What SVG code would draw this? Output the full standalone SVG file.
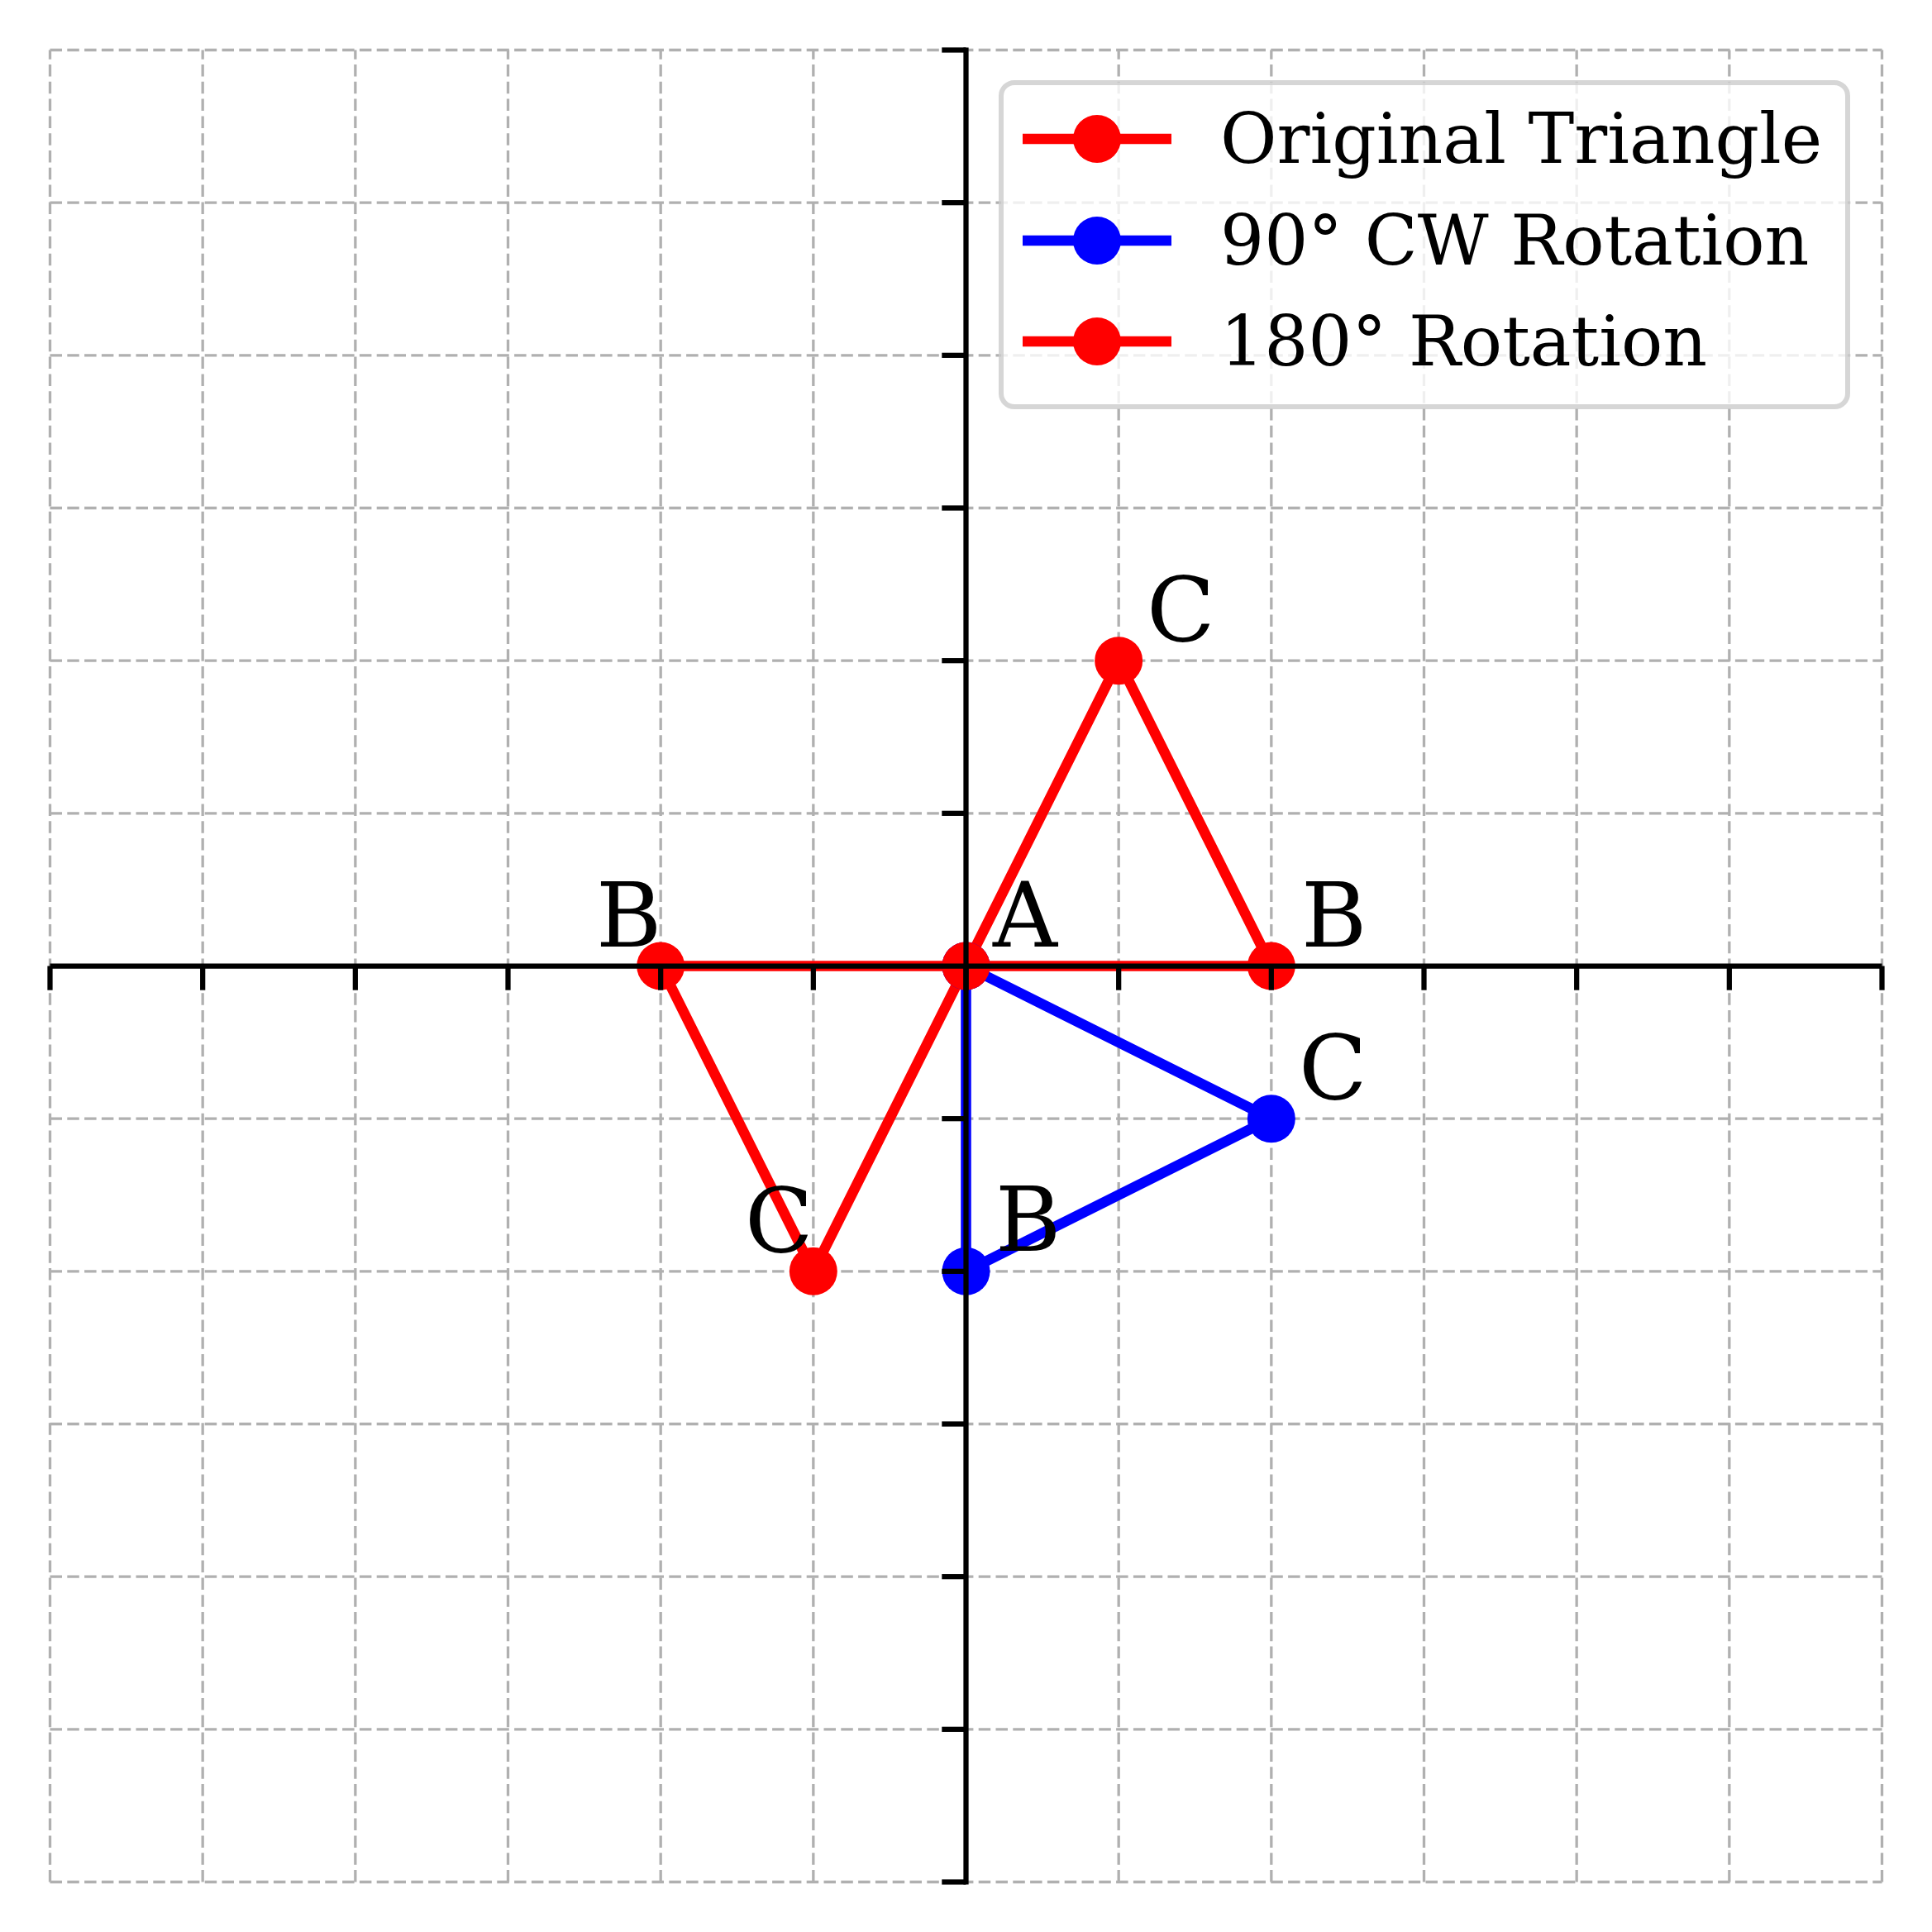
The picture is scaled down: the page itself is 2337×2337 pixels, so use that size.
<svg xmlns="http://www.w3.org/2000/svg" width="2337" height="2337" viewBox="0 0 2337 2337">
<style>
.grid line{stroke:#b0b0b0;stroke-width:3.3;stroke-dasharray:14.5 6.3;fill:none}
.spine{stroke:#000;stroke-width:6.25;fill:none}
.tick{stroke:#000;stroke-width:6.25;fill:none}
.red{stroke:#ff0000;stroke-width:12.5;fill:none;stroke-linejoin:round}
.blue{stroke:#0000ff;stroke-width:12.5;fill:none;stroke-linejoin:round}
.mr{fill:#ff0000}
.mb{fill:#0000ff}
.lbl{font-family:"DejaVu Serif","Liberation Serif",serif;font-size:108px;fill:#000}
.leg{font-family:"DejaVu Serif","Liberation Serif",serif;font-size:83.6px;fill:#000}
</style>
<rect width="2337" height="2337" fill="#ffffff"/>
<g id="grid" class="grid">
<line x1="60.5" y1="2276.5" x2="60.5" y2="60.5"/>
<line x1="245.17" y1="2276.5" x2="245.17" y2="60.5"/>
<line x1="429.83" y1="2276.5" x2="429.83" y2="60.5"/>
<line x1="614.5" y1="2276.5" x2="614.5" y2="60.5"/>
<line x1="799.17" y1="2276.5" x2="799.17" y2="60.5"/>
<line x1="983.83" y1="2276.5" x2="983.83" y2="60.5"/>
<line x1="1168.5" y1="2276.5" x2="1168.5" y2="60.5"/>
<line x1="1353.17" y1="2276.5" x2="1353.17" y2="60.5"/>
<line x1="1537.83" y1="2276.5" x2="1537.83" y2="60.5"/>
<line x1="1722.5" y1="2276.5" x2="1722.5" y2="60.5"/>
<line x1="1907.17" y1="2276.5" x2="1907.17" y2="60.5"/>
<line x1="2091.83" y1="2276.5" x2="2091.83" y2="60.5"/>
<line x1="2276.5" y1="2276.5" x2="2276.5" y2="60.5"/>
<line x1="60.5" y1="60.5" x2="2276.5" y2="60.5"/>
<line x1="60.5" y1="245.17" x2="2276.5" y2="245.17"/>
<line x1="60.5" y1="429.83" x2="2276.5" y2="429.83"/>
<line x1="60.5" y1="614.5" x2="2276.5" y2="614.5"/>
<line x1="60.5" y1="799.17" x2="2276.5" y2="799.17"/>
<line x1="60.5" y1="983.83" x2="2276.5" y2="983.83"/>
<line x1="60.5" y1="1168.5" x2="2276.5" y2="1168.5"/>
<line x1="60.5" y1="1353.17" x2="2276.5" y2="1353.17"/>
<line x1="60.5" y1="1537.83" x2="2276.5" y2="1537.83"/>
<line x1="60.5" y1="1722.5" x2="2276.5" y2="1722.5"/>
<line x1="60.5" y1="1907.17" x2="2276.5" y2="1907.17"/>
<line x1="60.5" y1="2091.83" x2="2276.5" y2="2091.83"/>
<line x1="60.5" y1="2276.5" x2="2276.5" y2="2276.5"/>
</g>
<g id="connectors">
<polyline class="red" points="1168.5,1168.5 1537.83,1168.5 1353.17,799.17 1168.5,1168.5"/>
<polyline class="blue" points="1168.5,1168.5 1168.5,1537.83 1537.83,1353.17 1168.5,1168.5"/>
<polyline class="red" points="1168.5,1168.5 799.17,1168.5 983.83,1537.83 1168.5,1168.5"/>
</g>
<g id="original-triangle">
<circle class="mr" cx="1168.5" cy="1168.5" r="29"/>
<circle class="mr" cx="1537.83" cy="1168.5" r="29"/>
<circle class="mr" cx="1353.17" cy="799.17" r="29"/>
</g>
<g id="rotation-90cw">
<circle class="mb" cx="1168.5" cy="1168.5" r="29"/>
<circle class="mb" cx="1168.5" cy="1537.83" r="29"/>
<circle class="mb" cx="1537.83" cy="1353.17" r="29"/>
</g>
<g id="rotation-180">
<circle class="mr" cx="1168.5" cy="1168.5" r="29"/>
<circle class="mr" cx="799.17" cy="1168.5" r="29"/>
<circle class="mr" cx="983.83" cy="1537.83" r="29"/>
</g>
<g id="axes">
<line class="spine" x1="60.5" y1="1168.5" x2="2276.5" y2="1168.5"/>
<line class="spine" x1="1168.5" y1="57.4" x2="1168.5" y2="2279.6"/>
<g class="tick">
<line x1="60.5" y1="1168.5" x2="60.5" y2="1197.7"/>
<line x1="245.17" y1="1168.5" x2="245.17" y2="1197.7"/>
<line x1="429.83" y1="1168.5" x2="429.83" y2="1197.7"/>
<line x1="614.5" y1="1168.5" x2="614.5" y2="1197.7"/>
<line x1="799.17" y1="1168.5" x2="799.17" y2="1197.7"/>
<line x1="983.83" y1="1168.5" x2="983.83" y2="1197.7"/>
<line x1="1168.5" y1="1168.5" x2="1168.5" y2="1197.7"/>
<line x1="1353.17" y1="1168.5" x2="1353.17" y2="1197.7"/>
<line x1="1537.83" y1="1168.5" x2="1537.83" y2="1197.7"/>
<line x1="1722.5" y1="1168.5" x2="1722.5" y2="1197.7"/>
<line x1="1907.17" y1="1168.5" x2="1907.17" y2="1197.7"/>
<line x1="2091.83" y1="1168.5" x2="2091.83" y2="1197.7"/>
<line x1="2276.5" y1="1168.5" x2="2276.5" y2="1197.7"/>
<line x1="1139.3" y1="60.5" x2="1168.5" y2="60.5"/>
<line x1="1139.3" y1="245.17" x2="1168.5" y2="245.17"/>
<line x1="1139.3" y1="429.83" x2="1168.5" y2="429.83"/>
<line x1="1139.3" y1="614.5" x2="1168.5" y2="614.5"/>
<line x1="1139.3" y1="799.17" x2="1168.5" y2="799.17"/>
<line x1="1139.3" y1="983.83" x2="1168.5" y2="983.83"/>
<line x1="1139.3" y1="1353.17" x2="1168.5" y2="1353.17"/>
<line x1="1139.3" y1="1537.83" x2="1168.5" y2="1537.83"/>
<line x1="1139.3" y1="1722.5" x2="1168.5" y2="1722.5"/>
<line x1="1139.3" y1="1907.17" x2="1168.5" y2="1907.17"/>
<line x1="1139.3" y1="2091.83" x2="1168.5" y2="2091.83"/>
<line x1="1139.3" y1="2276.5" x2="1168.5" y2="2276.5"/>
</g>
</g>
<g id="labels" class="lbl">
<text x="1201" y="1145">A</text>
<text x="1574" y="1145">B</text>
<text x="1387" y="775">C</text>
<text x="1571" y="1329">C</text>
<text x="1204" y="1513">B</text>
<text x="721" y="1145">B</text>
<text x="901" y="1514">C</text>
</g>
<g id="legend">
<rect x="1211" y="100" width="1024" height="392" rx="16" ry="16" fill="#ffffff" fill-opacity="0.8" stroke="#cccccc" stroke-opacity="0.8" stroke-width="6"/>
<line class="red" x1="1237" y1="168" x2="1417" y2="168" style="stroke-linecap:butt"/>
<circle class="mr" cx="1327" cy="168" r="29"/>
<text class="leg" x="1476" y="197">Original Triangle</text>
<line class="blue" x1="1237" y1="291" x2="1417" y2="291" style="stroke-linecap:butt"/>
<circle class="mb" cx="1327" cy="291" r="29"/>
<text class="leg" x="1476" y="320">90° CW Rotation</text>
<line class="red" x1="1237" y1="413" x2="1417" y2="413" style="stroke-linecap:butt"/>
<circle class="mr" cx="1327" cy="413" r="29"/>
<text class="leg" x="1476" y="442">180° Rotation</text>
</g>
</svg>
